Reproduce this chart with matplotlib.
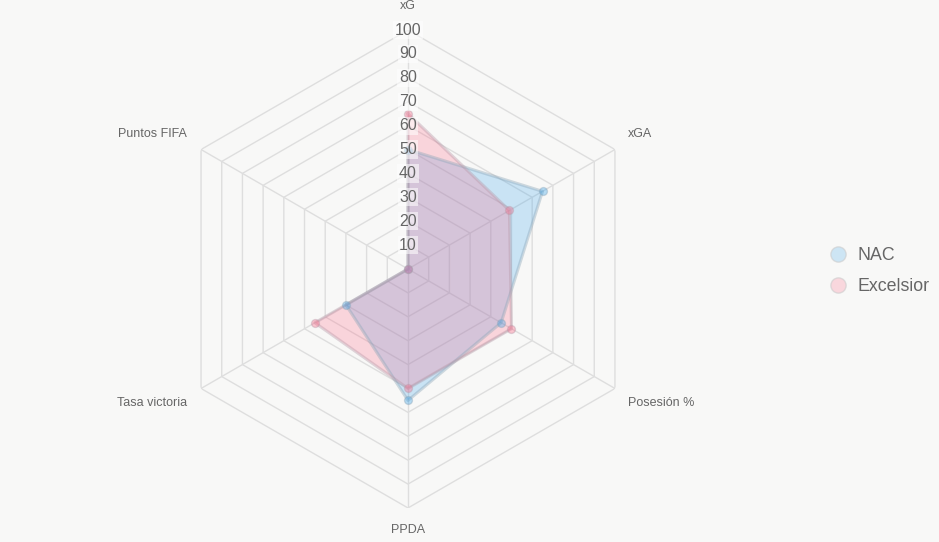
import matplotlib.pyplot as plt
import numpy as np

plt.rcParams['font.family'] = ['Liberation Sans', 'DejaVu Sans']

labels = ['xG', 'xGA', 'Posesión %', 'PPDA', 'Tasa victoria', 'Puntos FIFA']
nac = [50, 65, 45, 55, 30, 0]
excelsior = [65, 49, 50, 50, 45, 0]
ticks = [10, 20, 30, 40, 50, 60, 70, 80, 90, 100]

bg = '#f8f8f7'
grid_c = '#dedede'
text_c = '#666666'

fig = plt.figure(figsize=(9.39, 5.42), dpi=100, facecolor=bg)
ax = fig.add_axes([0.18, 0.0627, 0.509, 0.882], projection='polar')
ax.set_facecolor(bg)
ax.set_theta_offset(np.pi / 2)
ax.set_theta_direction(-1)
ax.set_ylim(0, 100)
ax.grid(False)
ax.spines['polar'].set_visible(False)
ax.set_xticks([])
ax.set_yticks([])
ax.patch.set_alpha(0)

n = len(labels)
ang = np.arange(n) * 2 * np.pi / n
ang_c = np.append(ang, ang[0])

# hexagon grid
for r in ticks:
    ax.plot(ang_c, [r] * (n + 1), color=grid_c, lw=1, zorder=1)
for a in ang:
    ax.plot([a, a], [0, 100], color=grid_c, lw=1, zorder=1)

series = [
    ('NAC', nac, (54/255, 162/255, 235/255), (0.55, 0.65, 0.72, 0.4)),
    ('Excelsior', excelsior, (255/255, 99/255, 132/255), (0.72, 0.60, 0.66, 0.4)),
]
for name, vals, col, edge in series:
    v = np.append(vals, vals[0])
    ax.fill(ang_c, v, color=col, alpha=0.24, lw=0, zorder=2)
    ax.plot(ang_c, v, color=edge, lw=2.2, zorder=3)
    ax.scatter(ang, vals, s=32, color=(*col, 0.35), edgecolors=edge, linewidths=1, zorder=4)

# tick labels on top spoke
for r in ticks:
    ax.text(0, r, str(r), ha='center', va='center', fontsize=11.5, color=text_c, zorder=5,
            bbox=dict(boxstyle='square,pad=0.1', fc='white', ec='none', alpha=0.55))

# axis labels
offsets = [(0, 24, 'center', 'center'), (13, 16, 'left', 'center'), (13, -15, 'left', 'center'),
           (0, -22, 'center', 'center'), (-14, -15, 'right', 'center'), (-14, 16, 'right', 'center')]
for a, lab, (dx, dy, ha, va) in zip(ang, labels, offsets):
    ax.annotate(lab, xy=(a, 100), xytext=(dx, dy), textcoords='offset pixels',
                ha=ha, va=va, fontsize=9, color=text_c, annotation_clip=False)

# legend
handles = []
for name, vals, col, edge in series:
    h = plt.Line2D([], [], ls='none', marker='o', markersize=11,
                   markerfacecolor=(*col, 0.22), markeredgecolor=(0.8, 0.8, 0.8, 0.6))
    handles.append(h)
fig.legend(handles, [s[0] for s in series], loc='center left', bbox_to_anchor=(0.864, 0.5),
           frameon=False, fontsize=12.8, labelcolor=text_c, handletextpad=0.5,
           labelspacing=0.8, handlelength=1.2)

fig.savefig('out.png', dpi=100, facecolor=bg)
